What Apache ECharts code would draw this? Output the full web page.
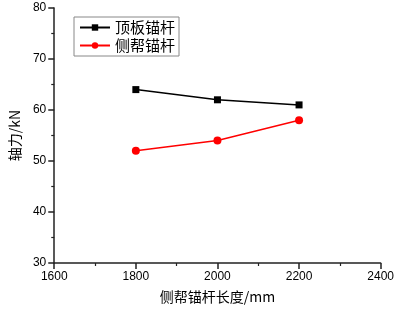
<!DOCTYPE html>
<html>
<head>
<meta charset="utf-8">
<script src="https://cdn.jsdelivr.net/npm/echarts@6/dist/echarts.min.js"></script>
<style>
html, body { margin: 0; padding: 0; background: #fff; }
#chart { width: 397px; height: 309px; }
</style>
</head>
<body>
<div id="chart"></div>
<script>
// 锚杆长度 (mm)
var lengths = [1800, 2000, 2200];
var roofBolt = [64, 62, 61];   // 顶板锚杆
var sideBolt = [52, 54, 58];   // 侧帮锚杆
var seriesNames = ['顶板锚杆', '侧帮锚杆'];

function pairs(xs, ys) {
	return xs.map(function (x, i) { return [x, ys[i]]; });
}

var cjk = '"Noto Sans CJK SC", sans-serif';
var tickFont = '"Liberation Sans", Arial, sans-serif';

var axisCommon = {
	axisLine: { show: true, lineStyle: { color: '#222', width: 1.5 } },
	axisTick: { show: true, inside: false, length: 6, lineStyle: { color: '#222', width: 1.5 } },
	minorTick: { show: true, splitNumber: 2, length: 3, lineStyle: { color: '#222', width: 1.2 } },
	splitLine: { show: false },
	axisLabel: { color: '#000', fontSize: 12, fontFamily: tickFont, formatter: function (v) { return String(v); } },
};

var chart = echarts.init(document.getElementById('chart'));
chart.setOption({
	animation: false,
	grid: { left: 49, right: 16, top: 8, bottom: 42 },
	legend: {
		left: 74,
		top: 17,
		orient: 'vertical',
		itemGap: 3,
		itemWidth: 30,
		itemHeight: 8,
		padding: [3, 4, 3, 5],
		borderColor: '#888',
		borderWidth: 1,
		borderRadius: 0,
		textStyle: { fontSize: 15, color: '#000', fontFamily: cjk },
		data: seriesNames,
	},
	xAxis: Object.assign({}, axisCommon, {
		type: 'value',
		min: 1600,
		max: 2400,
		interval: 200,
		name: '侧帮锚杆长度/mm',
		nameLocation: 'middle',
		nameGap: 27,
		nameTextStyle: { fontSize: 14, color: '#000', fontFamily: cjk },
	}),
	yAxis: Object.assign({}, axisCommon, {
		type: 'value',
		min: 30,
		max: 80,
		interval: 10,
		name: '轴力/kN',
		nameLocation: 'middle',
		nameGap: 32,
		nameTextStyle: { fontSize: 14, color: '#000', fontFamily: cjk },
	}),
	series: [
		{
			name: seriesNames[0],
			type: 'line',
			symbol: 'rect',
			symbolSize: 7,
			color: '#000',
			lineStyle: { width: 1.5 },
			data: pairs(lengths, roofBolt),
		},
		{
			name: seriesNames[1],
			type: 'line',
			symbol: 'circle',
			symbolSize: 8,
			color: '#ff0000',
			lineStyle: { width: 1.5 },
			data: pairs(lengths, sideBolt),
		},
	],
});
</script>
</body>
</html>
